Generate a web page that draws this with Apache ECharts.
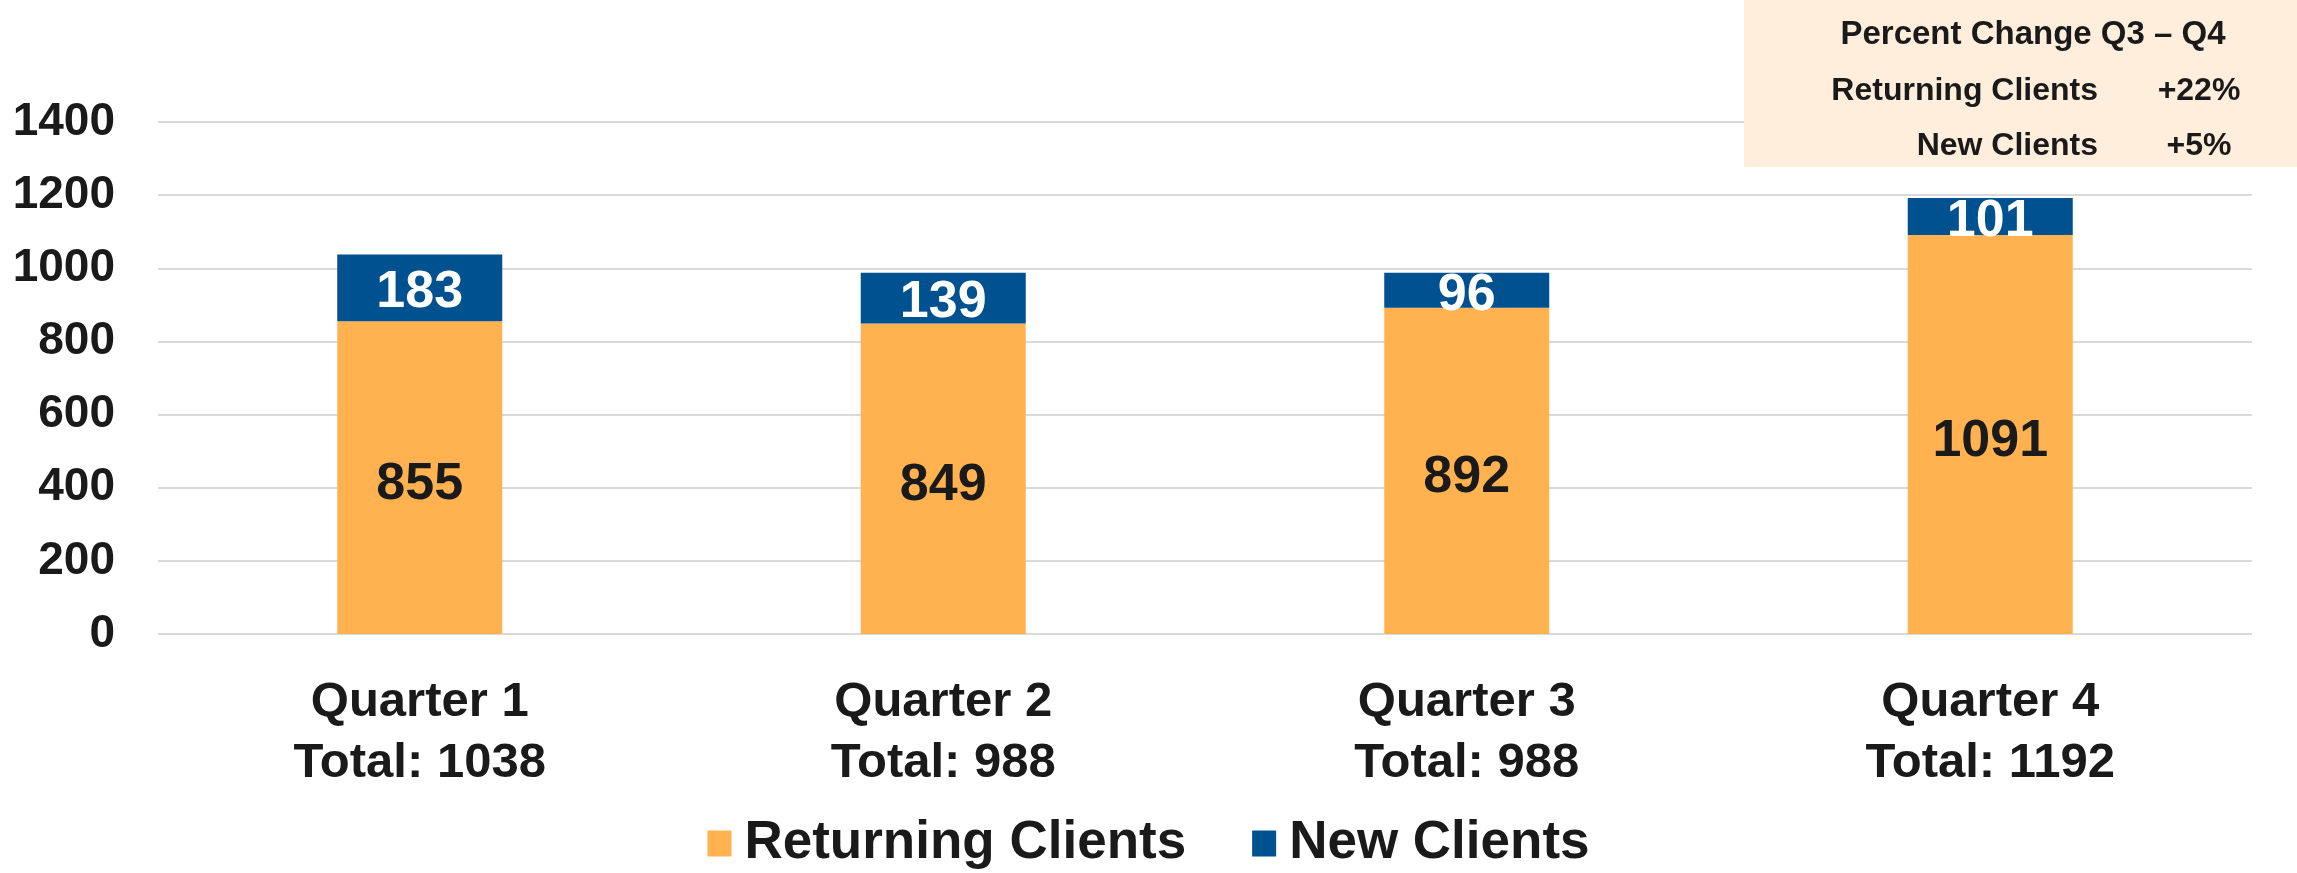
<!DOCTYPE html>
<html><head><meta charset="utf-8">
<script src="https://cdn.jsdelivr.net/npm/echarts@6/dist/echarts.min.js"></script>
<style>html,body{margin:0;padding:0;background:#fff}#c{width:2297px;height:873px}</style>
</head><body><div id="c"></div>
<script>
const categories = ['Quarter 1', 'Quarter 2', 'Quarter 3', 'Quarter 4'];
const returningClients = [855, 849, 892, 1091];
const newClients = [183, 139, 96, 101];
const seriesNames = ['Returning Clients', 'New Clients'];
const boxTitle = 'Percent Change Q3 – Q4';
const boxRows = ['Returning Clients', 'New Clients'];
const boxValues = ['+22%', '+5%'];

const FONT = '"Liberation Sans", Arial, sans-serif';
const TXT = '#1a1a1a';
const ORANGE = '#FFB24F';
const BLUE = '#00518F';

const chart = echarts.init(document.getElementById('c'), null, {renderer: 'canvas'});
chart.setOption({
  animation: false,
  textStyle: {fontFamily: FONT},
  grid: {left: 158, right: 45, top: 122, bottom: 239, containLabel: false},
  legend: {
    top: 812, left: 'center',
    itemWidth: 24, itemHeight: 26, itemGap: 66,
    icon: 'rect',
    textStyle: {fontFamily: FONT, fontWeight: 'bold', fontSize: 53, color: TXT, padding: [0, 0, 0, 8]},
    data: seriesNames
  },
  xAxis: {
    type: 'category', data: categories,
    axisLine: {show: false}, axisTick: {show: false},
    axisLabel: {
      margin: 38, fontFamily: FONT, fontWeight: 'bold', fontSize: 49, color: TXT, lineHeight: 61,
      formatter: (v, i) => v + '\nTotal: ' + (returningClients[i] + newClients[i])
    }
  },
  yAxis: {
    type: 'value', min: 0, max: 1400, interval: 200,
    axisLine: {show: false}, axisTick: {show: false},
    splitLine: {lineStyle: {color: '#d9d9d9', width: 2}},
    axisLabel: {margin: 43, fontFamily: FONT, fontWeight: 'bold', fontSize: 46, color: TXT,
      formatter: v => String(v), padding: [6, 0, 0, 0]}
  },
  series: [
    {
      name: seriesNames[0], type: 'bar', stack: 'a', data: returningClients, barWidth: 165,
      itemStyle: {color: ORANGE},
      label: {show: true, position: 'inside', offset: [0, 7], fontFamily: FONT, fontWeight: 'bold', fontSize: 52, color: TXT}
    },
    {
      name: seriesNames[1], type: 'bar', stack: 'a', data: newClients, barWidth: 165,
      itemStyle: {color: BLUE},
      label: {show: true, position: 'inside', offset: [0, 5], fontFamily: FONT, fontWeight: 'bold', fontSize: 52, color: '#ffffff'}
    }
  ],
  graphic: [
    {type: 'rect', left: 1744, top: 0, shape: {width: 553, height: 167}, style: {fill: '#FEEEDB'}, z: 10},
    {type: 'text', x: 2033, y: 35, z: 11, style: {text: boxTitle, font: 'bold 33px ' + FONT, fill: TXT, align: 'center', verticalAlign: 'middle'}},
    {type: 'text', x: 2098, y: 91, z: 11, style: {text: boxRows[0], font: 'bold 32px ' + FONT, fill: TXT, align: 'right', verticalAlign: 'middle'}},
    {type: 'text', x: 2199, y: 91, z: 11, style: {text: boxValues[0], font: 'bold 32px ' + FONT, fill: TXT, align: 'center', verticalAlign: 'middle'}},
    {type: 'text', x: 2098, y: 146, z: 11, style: {text: boxRows[1], font: 'bold 32px ' + FONT, fill: TXT, align: 'right', verticalAlign: 'middle'}},
    {type: 'text', x: 2199, y: 146, z: 11, style: {text: boxValues[1], font: 'bold 32px ' + FONT, fill: TXT, align: 'center', verticalAlign: 'middle'}}
  ]
});
</script></body></html>
